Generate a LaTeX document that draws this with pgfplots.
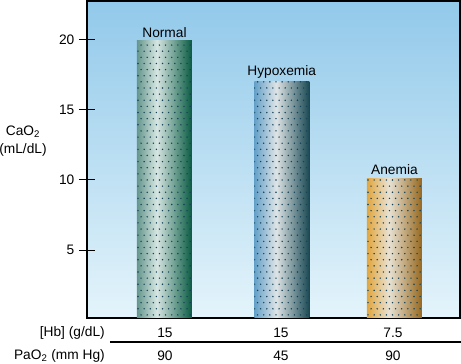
\documentclass[border=0pt]{standalone}
\usepackage{pgfplots}
\pgfplotsset{compat=1.18}
\usepackage{fontspec}
\setmainfont{Liberation Sans}
\usetikzlibrary{patterns}
\definecolor{bgtop}{RGB}{146,201,234}
\definecolor{bgbot}{RGB}{228,244,251}
\definecolor{nA}{RGB}{100,150,140}
\definecolor{nB}{RGB}{215,230,226}
\definecolor{nC}{RGB}{8,90,66}
\definecolor{hA}{RGB}{100,160,200}
\definecolor{hB}{RGB}{222,228,230}
\definecolor{hC}{RGB}{25,72,82}
\definecolor{aA}{RGB}{226,166,62}
\definecolor{aB}{RGB}{232,226,212}
\definecolor{aC}{RGB}{150,104,30}
\definecolor{dotc}{RGB}{22,66,86}
\pgfdeclarehorizontalshading{normsh}{100bp}{color(0bp)=(nA); color(25bp)=(nA); color(43bp)=(nB); color(75bp)=(nC); color(100bp)=(nC)}
\pgfdeclarehorizontalshading{hyposh}{100bp}{color(0bp)=(hA); color(25bp)=(hA); color(45bp)=(hB); color(75bp)=(hC); color(100bp)=(hC)}
\pgfdeclarehorizontalshading{anemsh}{100bp}{color(0bp)=(aA); color(25bp)=(aA); color(45bp)=(aB); color(75bp)=(aC); color(100bp)=(aC)}
\pgfdeclarepatternformonly{bardots}{\pgfqpoint{-1pt}{-1pt}}{\pgfqpoint{4.6pt}{9.2pt}}{\pgfqpoint{4.6pt}{9.2pt}}{%
  \pgfpathcircle{\pgfqpoint{0pt}{0pt}}{0.6pt}\pgfusepath{fill}%
  \pgfpathcircle{\pgfqpoint{2.3pt}{4.6pt}}{0.6pt}\pgfusepath{fill}}
\pgfplotsset{
  shbar/.style={ybar, bar width=41.25pt, draw=none, shading=#1,
    nodes near coords, point meta=explicit symbolic},
  dotbar/.style={ybar, bar width=41.25pt, draw=none, pattern=bardots, pattern color=dotc},
}
\begin{document}
\begin{tikzpicture}
\begin{axis}[
  at={(0,0)}, anchor=south west,
  scale only axis, width=279.75pt, height=237.75pt,
  xmin=0.326, xmax=3.570, ymin=0.16, ymax=22.73,
  xtick=\empty, ytick={5,10,15,20},
  tick align=center, major tick length=12pt,
  tick style={black, line width=0.7pt},
  ytick pos=left,
  axis line style={line width=1.5pt},
  axis background/.style={top color=bgtop, bottom color=bgbot},
  yticklabel style={font=\fontsize{10.3}{12}\selectfont},
  /pgf/number format/assume math mode=true,
  clip=false,
  every node near coord/.append style={font=\fontsize{10.3}{12}\selectfont, anchor=south, inner sep=2.5pt},
]
\addplot[shbar=normsh] coordinates {(1,19.9) [Normal]};
\addplot[shbar=hyposh] coordinates {(2.02,17.0) [Hypoxemia]};
\addplot[shbar=anemsh] coordinates {(3,10.1) [Anemia]};
\addplot[dotbar] coordinates {(1,19.9)};
\addplot[dotbar] coordinates {(2.02,17.0)};
\addplot[dotbar] coordinates {(3,10.1)};
\end{axis}
\begin{scope}[x=0.75pt,y=-0.75pt,xshift=-65.25pt,yshift=238.5pt,
  every node/.style={font=\fontsize{10.3}{12}\selectfont, inner sep=0pt}]
\useasboundingbox (0,0) rectangle (461,364);
\node[anchor=center, align=center] at (23,141) {CaO\textsubscript{2}\\[1pt](mL/dL)};
\node[anchor=east] at (105,333) {[Hb] (g/dL)};
\node at (165,333) {15};
\node at (281,333) {15};
\node at (393,333) {7.5};
\draw[line width=0.8pt] (110,342) -- (461,342);
\node[anchor=east] at (105,356) {PaO\textsubscript{2} (mm Hg)};
\node at (165,356) {90};
\node at (281,356) {45};
\node at (393,356) {90};
\end{scope}
\end{tikzpicture}
\end{document}
